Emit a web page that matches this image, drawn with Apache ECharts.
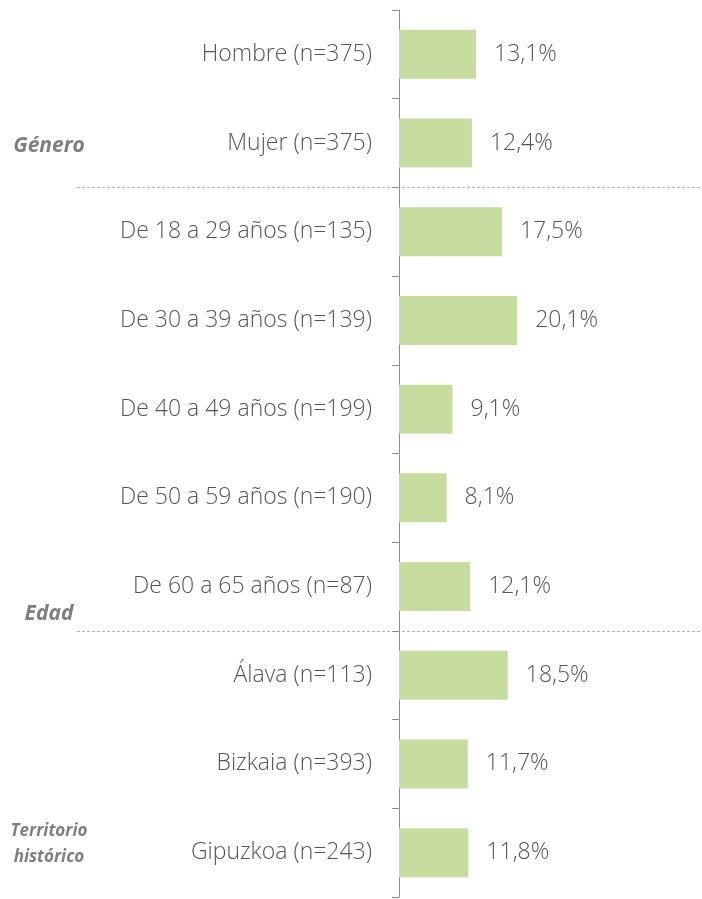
<!DOCTYPE html>
<html>
<head>
<meta charset="utf-8">
<script src="https://cdn.jsdelivr.net/npm/echarts@6/dist/echarts.min.js"></script>
<style>
  html, body { margin: 0; padding: 0; background: #fff; }
  #chart { width: 702px; height: 899px; }
</style>
</head>
<body>
<div id="chart"></div>
<script>
// categories (top to bottom)
const categories = [
  'Hombre (n=375)',
  'Mujer (n=375)',
  'De 18 a 29 años (n=135)',
  'De 30 a 39 años (n=139)',
  'De 40 a 49 años (n=199)',
  'De 50 a 59 años (n=190)',
  'De 60 a 65 años (n=87)',
  'Álava (n=113)',
  'Bizkaia (n=393)',
  'Gipuzkoa (n=243)'
]
const values = [13.1, 12.4, 17.5, 20.1, 9.1, 8.1, 12.1, 18.5, 11.7, 11.8]

// group labels: text, category index it sits next to
const groups = [
  { name: 'Género', row: 1, dy: 3, size: 21 },
  { name: 'Edad', row: 6, dy: 27, size: 21 },
  { name: 'Territorio\nhistórico', row: 9, dy: -8, size: 17 }
]
// dashed separators after these rows
const separatorsAfter = [1, 6]

const textColor = '#555555'
const fontFamily = '"Open Sans", "Noto Sans", sans-serif'

const chart = echarts.init(document.getElementById('chart'))

chart.setOption({
  animation: false,
  grid: {
    left: 399,
    right: 12,
    top: 10,
    bottom: 2
  },
  xAxis: {
    type: 'value',
    min: 0,
    max: 49.5,
    show: false
  },
  yAxis: {
    type: 'category',
    data: categories,
    inverse: true,
    axisLine: { show: true, lineStyle: { color: '#8c8c8c', width: 1 } },
    axisTick: { show: true, length: 7, lineStyle: { color: '#8c8c8c' } },
    axisLabel: {
      margin: 27,
      fontSize: 23,
      color: textColor,
      fontFamily: fontFamily,
      fontWeight: 300
    }
  },
  series: [
    {
      type: 'bar',
      data: values,
      barWidth: 49,
      itemStyle: { color: '#c6dd9f' },
      label: {
        show: true,
        position: 'right',
        distance: 18,
        fontSize: 23,
        color: textColor,
        fontFamily: fontFamily,
        fontWeight: 300,
        formatter: p => p.value.toFixed(1).replace('.', ',') + '%'
      }
    }
  ]
})

// separators and group labels placed from the axis scale
const graphics = []
separatorsAfter.forEach(i => {
  const y1 = chart.convertToPixel({ yAxisIndex: 0 }, i)
  const y2 = chart.convertToPixel({ yAxisIndex: 0 }, i + 1)
  const y = Math.round((y1 + y2) / 2) + 0.5
  graphics.push({
    type: 'line',
    shape: { x1: 77, y1: y, x2: 702, y2: y },
    style: { stroke: '#b4b4b4', lineWidth: 1, lineDash: [3, 2] }
  })
})
groups.forEach(g => {
  const y = chart.convertToPixel({ yAxisIndex: 0 }, g.row) + g.dy
  graphics.push({
    type: 'text',
    x: 49,
    y: y,
    style: {
      text: g.name,
      fill: '#7f7f7f',
      font: 'italic bold ' + g.size + 'px ' + fontFamily,
      textAlign: 'center',
      textVerticalAlign: 'middle',
      lineHeight: 26
    }
  })
})
chart.setOption({ graphic: graphics })
</script>
</body>
</html>
